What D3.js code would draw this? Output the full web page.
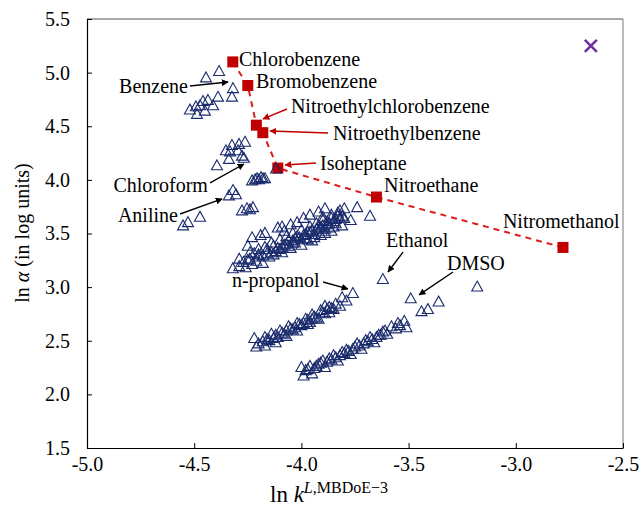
<!DOCTYPE html>
<html lang="en">
<head>
<meta charset="UTF-8">
<title>ln alpha vs ln k</title>
<script src="https://d3js.org/d3.v7.min.js"></script>
<style>
    body { margin: 0; background: #fff; }
    svg { display: block; font-family: "Liberation Serif", "Times New Roman", serif; }
    .tick text { font-size: 20px; fill: #000; }
    .label { font-size: 20px; fill: #000; }
</style>
</head>
<body>
<svg width="641" height="507"></svg>
<script>
// triangle clusters (ln k, ln alpha)
const benzeneGroup = [[-4.445,4.96],[-4.384,5.02],[-4.319,4.86],[-4.324,4.78],[-4.389,4.78],[-4.52,4.66],
    [-4.492,4.69],[-4.459,4.74],[-4.436,4.75],[-4.412,4.70],[-4.487,4.62],[-4.45,4.65],[-4.473,4.70]];
const chloroformGroup = [[-4.352,4.28],[-4.324,4.33],[-4.291,4.34],[-4.263,4.36],[-4.333,4.27],[-4.296,4.28],
    [-4.277,4.23],[-4.268,4.21],[-4.338,4.20],[-4.394,4.14],[-4.23,4.00],[-4.216,4.01],[-4.207,4.02],
    [-4.198,4.01],[-4.188,4.03],[-4.179,4.02],[-4.17,4.02],[-4.118,4.11]];
const anilineGroup = [[-4.552,3.58],[-4.529,3.61],[-4.473,3.66],[-4.338,3.86],[-4.319,3.91],[-4.305,3.87],
    [-4.277,3.72],[-4.254,3.74],[-4.226,3.75],[-4.24,3.73]];
const upperBand = [[-4.32,3.18],[-4.29,3.20],[-4.26,3.19],[-4.23,3.22],[-4.29,3.27],[-4.25,3.26],[-4.21,3.25],
    [-4.18,3.23],[-4.22,3.32],[-4.18,3.30],[-4.15,3.29],[-4.16,3.36],[-4.12,3.34],[-4.09,3.33],[-4.13,3.39],
    [-4.09,3.38],[-4.05,3.37],[-4.06,3.44],[-4.03,3.42],[-4.00,3.40],[-4.02,3.48],[-3.98,3.46],[-3.95,3.44],
    [-3.97,3.52],[-3.94,3.50],[-3.91,3.49],[-3.92,3.57],[-3.89,3.55],[-3.86,3.53],[-3.88,3.62],[-3.84,3.60],
    [-3.81,3.58],[-3.83,3.67],[-3.80,3.65],[-3.80,3.74],[-3.82,3.72],[-3.86,3.68],[-3.90,3.63],[-3.93,3.60],
    [-3.96,3.57],[-4.00,3.54],[-4.04,3.51],[-4.07,3.48],[-4.10,3.45],[-4.14,3.42],[-4.17,3.38],[-4.20,3.36],
    [-4.24,3.33],[-3.77,3.63],[-4.25,3.39],[-4.23,3.47],[-4.19,3.49],[-4.17,3.51],[-4.11,3.56],[-4.09,3.57],
    [-4.05,3.59],[-4.02,3.61],[-3.99,3.65],[-3.96,3.68],[-3.92,3.71],[-3.89,3.74],[-3.74,3.75],[-3.68,3.67],
    [-4.27,3.24],[-4.24,3.27],[-4.20,3.29],[-4.20,3.31],[-4.14,3.33],[-4.11,3.37],[-4.08,3.40],[-4.07,3.41],
    [-4.04,3.44],[-4.03,3.46],[-4.01,3.47],[-3.99,3.49],[-3.98,3.50],[-3.96,3.52],[-3.95,3.54],[-3.93,3.55],
    [-3.91,3.56],[-3.90,3.58],[-3.88,3.59],[-3.87,3.60],[-3.85,3.62],[-3.84,3.64],[-3.82,3.65],[-3.81,3.67],
    [-3.85,3.57],[-3.87,3.56],[-3.94,3.47],[-3.97,3.45],[-4.06,3.39],[-4.10,3.36],[-4.13,3.31],[-4.16,3.32],
    [-3.92,3.53],[-3.89,3.51],[-4.00,3.45],[-4.04,3.42],[-3.86,3.65],[-3.83,3.70],[-3.90,3.66],[-4.08,3.53]];
const propanolBand = [[-4.22,2.53],[-4.21,2.45],[-4.18,2.50],[-4.17,2.54],[-4.15,2.51],[-4.14,2.57],[-4.11,2.54],
    [-4.10,2.60],[-4.08,2.57],[-4.06,2.64],[-4.04,2.61],[-4.02,2.67],[-4.00,2.65],[-3.98,2.71],[-3.96,2.68],
    [-3.95,2.75],[-3.93,2.72],[-3.91,2.79],[-3.89,2.76],[-3.87,2.82],[-3.85,2.80],[-3.81,2.91],[-3.76,2.95],
    [-4.17,2.46],[-4.12,2.49],[-4.07,2.55],[-4.02,2.60],[-3.97,2.66],[-3.92,2.71],[-3.87,2.77],[-3.82,2.83],
    [-3.84,2.85],[-3.89,2.83],[-4.20,2.48],[-4.16,2.52],[-4.13,2.53],[-4.12,2.56],[-4.09,2.58],[-4.07,2.60],
    [-4.05,2.62],[-4.03,2.63],[-4.01,2.66],[-3.99,2.67],[-3.97,2.70],[-3.95,2.71],[-3.94,2.73],[-3.90,2.77],
    [-3.88,2.80],[-3.86,2.81],[-3.79,2.88]];
const dmsoBand = [[-4.00,2.26],[-3.99,2.18],[-3.95,2.20],[-3.96,2.27],[-3.92,2.29],[-3.90,2.32],[-3.89,2.26],
    [-3.87,2.34],[-3.85,2.37],[-3.83,2.32],[-3.81,2.40],[-3.79,2.42],[-3.77,2.38],[-3.75,2.45],[-3.74,2.48],
    [-3.72,2.43],[-3.70,2.51],[-3.68,2.54],[-3.66,2.49],[-3.64,2.56],[-3.62,2.59],[-3.60,2.57],[-3.58,2.64],
    [-3.55,2.67],[-3.52,2.69],[-3.51,2.63],[-3.49,2.90],[-3.44,2.78],[-3.41,2.80],[-3.36,2.87],[-3.18,3.01],
    [-3.62,3.08],[-3.98,2.23],[-3.97,2.24],[-3.94,2.25],[-3.93,2.27],[-3.91,2.30],[-3.88,2.31],[-3.86,2.33],
    [-3.84,2.35],[-3.82,2.37],[-3.80,2.39],[-3.78,2.41],[-3.76,2.43],[-3.73,2.46],[-3.71,2.48],[-3.69,2.50],
    [-3.67,2.52],[-3.65,2.54],[-3.63,2.56],[-3.61,2.60],[-3.56,2.62],[-3.54,2.65]];

// red series (dashed)
const solventNames = ["Chlorobenzene","Bromobenzene","Nitroethylchlorobenzene","Nitroethylbenzene",
    "Isoheptane","Nitroethane","Nitromethanol"];
const solventLnK = [-4.32,-4.25,-4.21,-4.18,-4.11,-3.65,-2.78];
const solventLnA = [5.10,4.88,4.51,4.44,4.11,3.84,3.37];

const crossPoint = [[-2.65,5.25]];

const xTicks = [-5.0,-4.5,-4.0,-3.5,-3.0,-2.5];
const yTicks = [1.5,2.0,2.5,3.0,3.5,4.0,4.5,5.0,5.5];

// annotations: text, anchor, text position, arrow from -> to, arrow colour
const notes = [
    {t:"Chlorobenzene", a:"start", x:-4.291, y:5.127},
    {t:"Bromobenzene", a:"start", x:-4.212, y:4.922},
    {t:"Benzene", a:"end", x:-4.529, y:4.875, from:[-4.52,4.875], to:[-4.342,4.913], c:"k"},
    {t:"Nitroethylchlorobenzene", a:"start", x:-4.049, y:4.689, from:[-4.067,4.661], to:[-4.179,4.568], c:"r"},
    {t:"Nitroethylbenzene", a:"start", x:-3.853, y:4.437, from:[-3.876,4.437], to:[-4.146,4.456], c:"r"},
    {t:"Isoheptane", a:"start", x:-3.913, y:4.157, from:[-3.932,4.157], to:[-4.076,4.139], c:"r"},
    {t:"Nitroethane", a:"start", x:-3.615, y:3.952},
    {t:"Nitromethanol", a:"start", x:-3.06, y:3.617},
    {t:"Chloroform", a:"end", x:-4.436, y:3.952, from:[-4.426,3.971], to:[-4.268,4.148], c:"k"},
    {t:"Aniline", a:"end", x:-4.576, y:3.672, from:[-4.566,3.682], to:[-4.37,3.822], c:"k"},
    {t:"n-propanol", a:"start", x:-4.324, y:3.066, from:[-3.899,3.048], to:[-3.783,2.983], c:"k"},
    {t:"Ethanol", a:"start", x:-3.605, y:3.439, from:[-3.526,3.327], to:[-3.596,3.141], c:"k"},
    {t:"DMSO", a:"start", x:-3.321, y:3.225, from:[-3.293,3.141], to:[-3.451,2.927], c:"k"}
];

const svg = d3.select("svg");
const x = d3.scaleLinear().domain([-5, -2.5]).range([87, 623]);
const y = d3.scaleLinear().domain([1.5, 5.5]).range([448, 19]);

// arrow heads
const defs = svg.append("defs");
[["k","#000"],["r","#c00000"]].forEach(([id, col]) => {
    defs.append("marker").attr("id", "head-" + id)
        .attr("viewBox", "0 0 10 10").attr("refX", 9).attr("refY", 5)
        .attr("markerWidth", 7).attr("markerHeight", 7).attr("markerUnits", "userSpaceOnUse")
        .attr("orient", "auto")
        .append("path").attr("d", "M0,0L10,5L0,10z").attr("fill", col);
});

// frame
svg.append("line").attr("x1", 87).attr("x2", 623).attr("y1", 19).attr("y2", 19).attr("stroke", "#555");
svg.append("line").attr("x1", 623).attr("x2", 623).attr("y1", 19).attr("y2", 448).attr("stroke", "#777");

// axes
const xAxis = svg.append("g").attr("transform", "translate(0,448)")
    .call(d3.axisBottom(x).tickValues(xTicks).tickFormat(d3.format(".1f"))
        .tickSizeInner(-5).tickSizeOuter(0).tickPadding(9));
const yAxis = svg.append("g").attr("transform", "translate(87,0)")
    .call(d3.axisLeft(y).tickValues(yTicks).tickFormat(d3.format(".1f"))
        .tickSizeInner(-5).tickSizeOuter(0).tickPadding(17));
[xAxis, yAxis].forEach(g => {
    g.attr("font-family", null).attr("font-size", null);
    g.select(".domain").attr("stroke", "#000").attr("stroke-width", 1.2);
    g.selectAll(".tick line").attr("stroke", "#000");
    g.selectAll(".tick text").text(d => d3.format(".1f")(d).replace("−", "-"));
});

// dashed connection between red points
const redPts = solventLnK.map((k, i) => [k, solventLnA[i]]);
svg.append("path").datum(redPts)
    .attr("d", d3.line().x(d => x(d[0])).y(d => y(d[1])))
    .attr("fill", "none").attr("stroke", "#dd1c1c").attr("stroke-width", 2)
    .attr("stroke-dasharray", "6,5");

svg.selectAll("rect.sq").data(redPts).enter().append("rect").attr("class", "sq")
    .attr("x", d => x(d[0]) - 5.5).attr("y", d => y(d[1]) - 5.5)
    .attr("width", 11).attr("height", 11).attr("fill", "#c00000");

// hollow triangles
const tri = {
    draw(ctx, size) {
        const w = size / 2, h = size * 0.45;
        ctx.moveTo(0, -h);
        ctx.lineTo(w, h);
        ctx.lineTo(-w, h);
        ctx.closePath();
    }
};
const allTriangles = [].concat(benzeneGroup, chloroformGroup, anilineGroup, upperBand, propanolBand, dmsoBand);
svg.append("g").selectAll("path").data(allTriangles).enter().append("path")
    .attr("transform", d => `translate(${x(d[0])},${y(d[1])})`)
    .attr("d", d3.symbol().type(tri).size(11))
    .attr("fill", "none").attr("stroke", "#1a2b6d").attr("stroke-width", 1.1);

// purple cross
svg.selectAll("path.cross").data(crossPoint).enter().append("path").attr("class", "cross")
    .attr("transform", d => `translate(${x(d[0])},${y(d[1])})`)
    .attr("d", "M-6,-6L6,6M-6,6L6,-6")
    .attr("stroke", "#7030a0").attr("stroke-width", 2.6);

// annotations
notes.forEach(n => {
    if (n.from) {
        svg.append("line")
            .attr("x1", x(n.from[0])).attr("y1", y(n.from[1]))
            .attr("x2", x(n.to[0])).attr("y2", y(n.to[1]))
            .attr("stroke", n.c === "r" ? "#c00000" : "#000").attr("stroke-width", 1.4)
            .attr("marker-end", `url(#head-${n.c})`);
    }
    svg.append("text").attr("class", "label")
        .attr("x", x(n.x)).attr("y", y(n.y)).attr("dy", "0.35em")
        .attr("text-anchor", n.a).text(n.t);
});

// axis titles
const yt = svg.append("text").attr("class", "label")
    .attr("transform", "translate(29,233) rotate(-90)").attr("text-anchor", "middle");
yt.append("tspan").text("ln ");
yt.append("tspan").attr("font-style", "italic").text("α");
yt.append("tspan").text(" (in log units)");

const xt = svg.append("text").attr("x", 270).attr("y", 502).attr("font-size", 23);
xt.append("tspan").text("ln ");
xt.append("tspan").attr("font-style", "italic").text("k");
xt.append("tspan").attr("font-style", "italic").attr("font-size", 16).attr("dy", -9).text("L");
xt.append("tspan").attr("font-size", 16).text(",MBDoE−3");
</script>
</body>
</html>
